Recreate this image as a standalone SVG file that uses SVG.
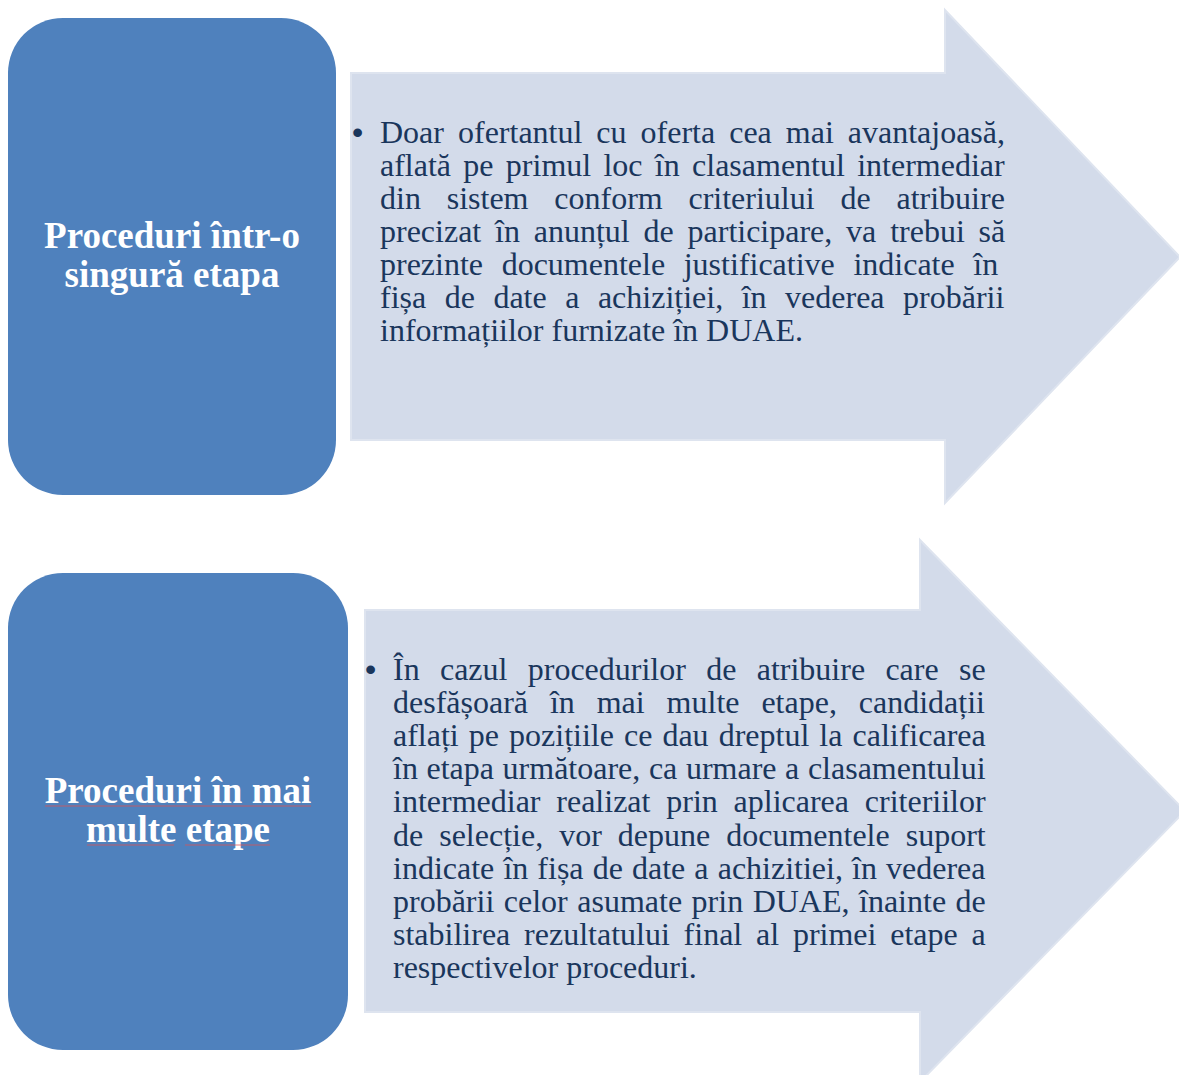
<svg xmlns="http://www.w3.org/2000/svg" width="1179" height="1075" viewBox="0 0 1179 1075">
<style>
.box{fill:#4F81BD;}
.arrow{fill:#D3DBEA;stroke:#DEE4EF;stroke-width:2;}
.title{font-family:"Liberation Serif","Times New Roman",serif;font-weight:bold;font-size:37px;fill:#FFFFFF;text-anchor:middle;}
.body{font-family:"Liberation Serif","Times New Roman",serif;font-size:32px;fill:#1A365C;font-kerning:none;font-variant-ligatures:none;}
.bullet{font-family:"Liberation Sans",Arial,sans-serif;font-size:32px;fill:#1A365C;}
.spell{stroke:#E05050;stroke-width:1;stroke-opacity:0.75;}
</style>
<rect width="1179" height="1075" fill="#FFFFFF"/>
<g id="connectors"></g>
<g id="node-single-stage">
<rect class="box" x="8" y="18" width="328" height="477" rx="55" ry="55"/>
<text class="title"><tspan x="172" y="248">Proceduri într-o</tspan><tspan x="172" y="287">singură etapa</tspan></text>
</g>
<g id="node-single-stage-detail">
<polygon class="arrow" points="351,73 945,73 945,10 1180,257 945,503 945,440 351,440"/>
<text class="bullet" x="352" y="143">•</text>
<text class="body">
<tspan x="380" y="143" word-spacing="6">Doar ofertantul cu oferta cea mai avantajoasă,</tspan>
<tspan x="380" y="176" word-spacing="4.3">aflată pe primul loc în clasamentul intermediar</tspan>
<tspan x="380" y="209" word-spacing="17.8">din sistem conform criteriului de atribuire</tspan>
<tspan x="380" y="242" word-spacing="5.8">precizat în anunțul de participare, va trebui să</tspan>
<tspan x="380" y="275" word-spacing="10.6">prezinte documentele justificative indicate în</tspan>
<tspan x="380" y="308" word-spacing="10.5">fișa de date a achiziției, în vederea probării</tspan>
<tspan x="380" y="341">informațiilor furnizate în DUAE.</tspan>
</text>
</g>
<g id="node-multi-stage">
<rect class="box" x="8" y="573" width="340" height="477" rx="55" ry="55"/>
<text class="title"><tspan x="178" y="803">Proceduri în mai</tspan><tspan x="178" y="842">multe etape</tspan></text>
<line class="spell" x1="45" y1="806" x2="311" y2="806"/>
<line class="spell" x1="87" y1="845" x2="174" y2="845"/>
<line class="spell" x1="185" y1="845" x2="270" y2="845"/>
</g>
<g id="node-multi-stage-detail">
<polygon class="arrow" points="365,610 920,610 920,540 1185,811 920,1082 920,1012 365,1012"/>
<text class="bullet" x="365" y="680">•</text>
<text class="body">
<tspan x="393" y="680" word-spacing="12.3">În cazul procedurilor de atribuire care se</tspan>
<tspan x="393" y="713" word-spacing="13.9">desfășoară în mai multe etape, candidații</tspan>
<tspan x="393" y="746" word-spacing="2.05">aflați pe pozițiile ce dau dreptul la calificarea</tspan>
<tspan x="393" y="779" word-spacing="0.6">în etapa următoare, ca urmare a clasamentului</tspan>
<tspan x="393" y="812" word-spacing="7.8">intermediar realizat prin aplicarea criteriilor</tspan>
<tspan x="393" y="846" word-spacing="8">de selecție, vor depune documentele suport</tspan>
<tspan x="393" y="879" word-spacing="1.1">indicate în fișa de date a achizitiei, în vederea</tspan>
<tspan x="393" y="912" word-spacing="1.5">probării celor asumate prin DUAE, înainte de</tspan>
<tspan x="393" y="945" word-spacing="5.8">stabilirea rezultatului final al primei etape a</tspan>
<tspan x="393" y="978">respectivelor proceduri.</tspan>
</text>
</g>
</svg>
